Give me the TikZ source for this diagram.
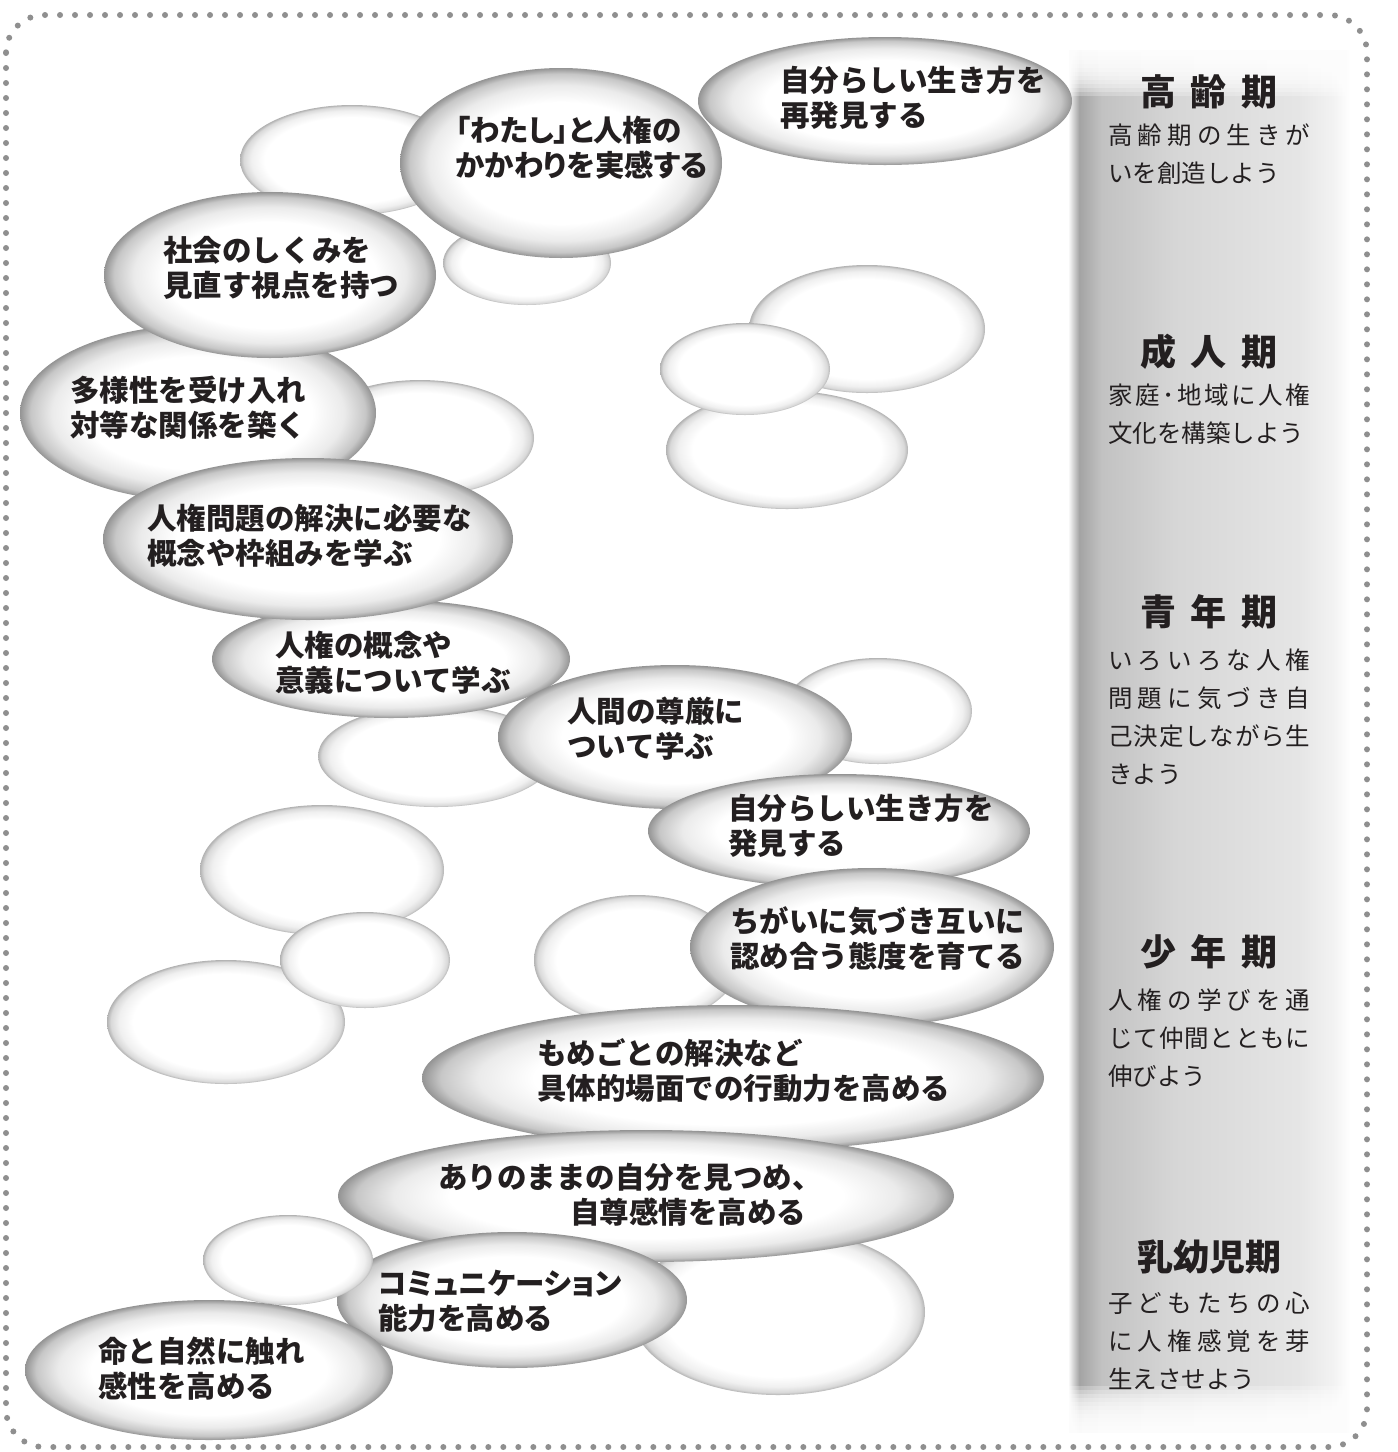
\documentclass[tikz,border=0pt]{standalone}
\usepackage{tikz}
\usepackage{fontspec}
\newfontfamily\jp{Noto Sans CJK JP}
\newfontfamily\jpp{Noto Sans CJK JP}[RawFeature=+palt]
\definecolor{ink}{RGB}{35,31,32}
\definecolor{dotgray}{RGB}{143,143,143}
\pgfdeclareradialshading{txtball}{\pgfpoint{0bp}{0bp}}{color(0bp)=(white); color(16bp)=(white); color(20.5bp)=(black!8); color(23.5bp)=(black!22); color(25bp)=(black!42); color(50bp)=(black!42)}
\pgfdeclareradialshading{emptyball}{\pgfpoint{0bp}{0bp}}{color(0bp)=(white); color(19.5bp)=(white); color(22.5bp)=(black!6); color(24.2bp)=(black!15); color(25bp)=(black!30); color(50bp)=(black!30)}
\pgfdeclarehorizontalshading{panelsh}{100bp}{color(0bp)=(white); color(25bp)=(white); color(27bp)=(black!36); color(31bp)=(black!24); color(44bp)=(black!16); color(66bp)=(black!10); color(72bp)=(black!5); color(75bp)=(white); color(100bp)=(white)}
\newcommand\J{\hfill}
\newcommand\jl[1]{\makebox[101pt][s]{#1}}
\begin{document}
\begin{tikzpicture}[x=0.5pt,y=-0.5pt,
  tb/.style={shading=txtball},
  eb/.style={shading=emptyball},
  txt/.style={anchor=west,inner sep=0pt,align=left,text=ink,font=\jp\bfseries\fontsize{14.75}{17.5}\selectfont},
  txtp/.style={txt,font=\jpp\bfseries\fontsize{14.75}{17.5}\selectfont},
  ttl/.style={inner sep=0pt,text=ink,font=\jp\bfseries\fontsize{18}{20}\selectfont},
  sub/.style={anchor=west,inner sep=0pt,align=left,text=ink,font=\jp\fontsize{12.25}{19}\selectfont}]
\useasboundingbox (0,0) rectangle (1398,1452);
\fill[white] (0,0) rectangle (1398,1452);
% right panel
\shade[shading=panelsh] (1068,50) rectangle (1350,1432);
\foreach \i in {1,...,12} {\fill[white,opacity=0.25] (1060,48) rectangle (1360,48+4*\i);}
\foreach \i in {1,...,12} {\fill[white,opacity=0.25] (1060,1434) rectangle (1360,1434-4*\i);}
% border
\draw[dotgray,line width=3pt,line cap=round,dash pattern=on 0pt off 7.5pt,rounded corners=19pt] (6,15) rectangle (1367,1447);
% ellipses
\shade[tb] (885,101) ellipse (187 and 64);
\shade[eb] (352,160) ellipse (112 and 55);
\shade[eb] (527,263) ellipse (84 and 42);
\shade[tb] (561,163) ellipse (161 and 95);
\shade[eb] (420,438) ellipse (114 and 58);
\shade[tb] (198,413) ellipse (178 and 88);
\shade[tb] (270,275) ellipse (166 and 83);
\shade[eb] (436,756) ellipse (118 and 51);
\shade[tb] (391,659) ellipse (179 and 59);
\shade[tb] (308,539) ellipse (205 and 81);
\shade[eb] (878,711) ellipse (94 and 53);
\shade[tb] (675,737) ellipse (177 and 72);
\shade[tb] (839,831) ellipse (191 and 57);
\shade[eb] (867,329) ellipse (118 and 64);
\shade[eb] (787,450) ellipse (121 and 59);
\shade[eb] (745,369) ellipse (85 and 46);
\shade[eb] (322,870) ellipse (122 and 65);
\shade[eb] (226,1022) ellipse (119 and 62);
\shade[eb] (365,960) ellipse (85 and 48);
\shade[eb] (637,960) ellipse (103 and 65);
\shade[tb] (872,947) ellipse (182 and 79);
\shade[tb] (733,1078) ellipse (311 and 73);
\shade[eb] (778,1312) ellipse (147 and 83);
\shade[tb] (646,1196) ellipse (308 and 66);
\shade[tb] (512,1300) ellipse (175 and 68);
\shade[eb] (288,1260) ellipse (85 and 45);
\shade[tb] (209,1370) ellipse (184 and 70);
% ellipse texts
\node[txt] (tA) at (780,97.5) {自分らしい生き方を\\再発見する};
\node[txtp] (tC) at (455,147.5) {「わたし」と人権の\\かかわりを実感する};
\node[txt] (tE) at (163,267.5) {社会のしくみを\\見直す視点を持つ};
\node[txt] (tG) at (70,407.5) {多様性を受け入れ\\対等な関係を築く};
\node[txt] (tH) at (147,535.5) {人権問題の解決に必要な\\概念や枠組みを学ぶ};
\node[txt] (tI) at (275,662.5) {人権の概念や\\意義について学ぶ};
\node[txt] (tL) at (567,728.5) {人間の尊厳に\\ついて学ぶ};
\node[txt] (tM) at (728,825.5) {自分らしい生き方を\\発見する};
\node[txt] (tR) at (730,938.5) {ちがいに気づき互いに\\認め合う態度を育てる};
\node[txt] (tS) at (537,1070.5) {もめごとの解決など\\具体的場面での行動力を高める};
\node[txt] (tU) at (438,1194.5) {ありのままの自分を見つめ、\\\hspace*{66pt}自尊感情を高める};
\node[txtp] (tW) at (378,1301) {コミュニケーション\\能力を高める};
\node[txt] (tX) at (98,1369) {命と自然に触れ\\感性を高める};
% panel titles
\node[ttl] (h1) at (1209,92) {高\hspace{7.5pt}齢\hspace{7.5pt}期};
\node[ttl] (h2) at (1209,352) {成\hspace{7.5pt}人\hspace{7.5pt}期};
\node[ttl] (h3) at (1209,612) {青\hspace{7.5pt}年\hspace{7.5pt}期};
\node[ttl] (h4) at (1209,952) {少\hspace{7.5pt}年\hspace{7.5pt}期};
\node[ttl] (h5) at (1209,1257) {乳幼児期};
% panel subtitles
\node[sub] (s1) at (1108,154) {\jl{高\J 齢\J 期\J の\J 生\J き\J が}\\いを創造しよう};
\node[sub] (s2) at (1108,414) {\jl{家\J 庭\J ･\J 地\J 域\J に\J 人\J 権}\\文化を構築しよう};
\node[sub] (s3) at (1108,716.5) {\jl{い\J ろ\J い\J ろ\J な\J 人\J 権}\\\jl{問\J 題\J に\J 気\J づ\J き\J 自}\\\jl{己\J 決\J 定\J し\J な\J が\J ら\J 生}\\きよう};
\node[sub] (s4) at (1108,1038) {\jl{人\J 権\J の\J 学\J び\J を\J 通}\\\jl{じ\J て\J 仲\J 間\J と\J と\J も\J に}\\伸びよう};
\node[sub] (s5) at (1108,1341) {\jl{子\J ど\J も\J た\J ち\J の\J 心}\\\jl{に\J 人\J 権\J 感\J 覚\J を\J 芽}\\生えさせよう};
\end{tikzpicture}
\end{document}
